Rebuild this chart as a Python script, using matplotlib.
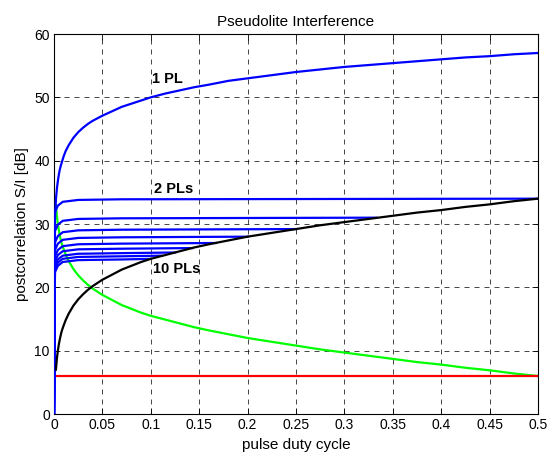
import matplotlib
matplotlib.use("Agg")
import matplotlib.pyplot as plt

plt.rcParams['font.family'] = ['Liberation Sans', 'DejaVu Sans']

# duty-cycle samples for the smooth curves
d = [0.002, 0.003, 0.004, 0.005, 0.006, 0.007, 0.008, 0.01, 0.012, 0.015,
     0.02, 0.025, 0.03, 0.035, 0.04, 0.045, 0.05, 0.06, 0.07, 0.08,
     0.09, 0.1, 0.115, 0.13, 0.145, 0.16, 0.18, 0.2, 0.225, 0.25,
     0.275, 0.3, 0.325, 0.35, 0.375, 0.4, 0.425, 0.45, 0.475, 0.5]

black_y = [7.0, 8.8, 10.0, 11.0, 11.8, 12.5, 13.1, 14.0, 14.8, 15.8,
           17.1, 18.1, 18.9, 19.6, 20.2, 20.7, 21.2, 22.0, 22.8, 23.4,
           24.0, 24.5, 25.1, 25.7, 26.3, 26.8, 27.4, 28.0, 28.6, 29.2,
           29.8, 30.3, 30.8, 31.3, 31.8, 32.2, 32.7, 33.1, 33.6, 34.0]

green_y = [33.0, 31.2, 30.0, 29.0, 28.2, 27.5, 26.9, 26.0, 25.2, 24.2,
           22.9, 21.9, 21.1, 20.4, 19.8, 19.3, 18.8, 18.0, 17.2, 16.6,
           16.0, 15.5, 14.9, 14.3, 13.7, 13.2, 12.6, 12.0, 11.4, 10.8,
           10.2, 9.7, 9.2, 8.7, 8.2, 7.8, 7.3, 6.9, 6.4, 6.0]

one_pl_y = [33.9, 35.6, 36.8, 37.8, 38.6, 39.2, 39.7, 40.7, 41.5, 42.4,
            43.6, 44.5, 45.2, 45.8, 46.3, 46.7, 47.1, 47.8, 48.5, 49.0,
            49.5, 50.0, 50.6, 51.1, 51.6, 52.0, 52.6, 53.0, 53.5, 54.0,
            54.4, 54.8, 55.1, 55.4, 55.7, 56.0, 56.3, 56.5, 56.8, 57.0]
one_pl_start_x = [0.0, 0.001]
one_pl_start_y = [0.0, 31.0]

red_x = [0.0, 0.5]
red_y = [6.0, 6.0]

# multi-pseudolite curves (2..10 PLs): start samples plus end point
multi_x_start = [0.0, 0.001, 0.004, 0.009, 0.025, 0.07]
multi_end_x = [0.5, 0.333, 0.25, 0.2, 0.167, 0.143, 0.125, 0.111, 0.1]
multi_y = [
    [0, 31.9, 32.9, 33.5, 33.8, 33.9, 34.0],
    [0, 28.9, 29.9, 30.5, 30.8, 30.9, 31.0],
    [0, 27.1, 28.1, 28.7, 29.0, 29.1, 29.2],
    [0, 25.9, 26.9, 27.5, 27.8, 27.9, 28.0],
    [0, 24.9, 25.9, 26.5, 26.8, 26.9, 27.0],
    [0, 24.1, 25.1, 25.7, 26.0, 26.1, 26.2],
    [0, 23.4, 24.4, 25.0, 25.3, 25.4, 25.5],
    [0, 22.9, 23.9, 24.5, 24.8, 24.9, 25.0],
    [0, 22.4, 23.4, 24.0, 24.3, 24.4, 24.5],
]

xticks = [0, 0.05, 0.1, 0.15, 0.2, 0.25, 0.3, 0.35, 0.4, 0.45, 0.5]
xticklabels = ['0', '0.05', '0.1', '0.15', '0.2', '0.25', '0.3', '0.35', '0.4', '0.45', '0.5']
yticks = [0, 10, 20, 30, 40, 50, 60]

fig = plt.figure(figsize=(5.47, 4.62), dpi=100)
ax = fig.add_axes([54/547, 1 - 414/462, (538-54)/547, (414-34)/462])

blue = '#0000ff'
for ys, xe in zip(multi_y, multi_end_x):
    ax.plot(multi_x_start + [xe], ys, color=blue, lw=1.6, zorder=3)
ax.plot(one_pl_start_x + d, one_pl_start_y + one_pl_y, color=blue, lw=1.6, zorder=3)
ax.plot(d, green_y, color='#00ff00', lw=1.6, zorder=2)
ax.plot(red_x, red_y, color='#ff0000', lw=1.6, zorder=2)
ax.plot(d, black_y, color='black', lw=1.6, zorder=4)

ax.set_xlim(0, 0.5)
ax.set_ylim(0, 60)
ax.set_xticks(xticks)
ax.set_xticklabels(xticklabels)
ax.set_yticks(yticks)
ax.tick_params(direction='in', length=4, width=0.6, labelsize=10, top=True, right=True,
               pad=3)
ax.grid(True, color='black', linestyle=(0, (6, 6)), linewidth=0.6, alpha=0.85)
for s in ax.spines.values():
    s.set_linewidth(0.8)

ax.text(0.101, 52.9, '1 PL', fontsize=10.5, fontweight='bold', va='center', ha='left')
ax.text(0.103, 35.6, '2 PLs', fontsize=10.5, fontweight='bold', va='center', ha='left')
ax.text(0.102, 22.9, '10 PLs', fontsize=10.5, fontweight='bold', va='center', ha='left')

ax.set_title('Pseudolite Interference', fontsize=11, pad=6)
ax.set_xlabel('pulse duty cycle', fontsize=11, labelpad=4)
ax.set_ylabel('postcorrelation S/I [dB]', fontsize=11, labelpad=4)

fig.savefig('out.png', dpi=100)
